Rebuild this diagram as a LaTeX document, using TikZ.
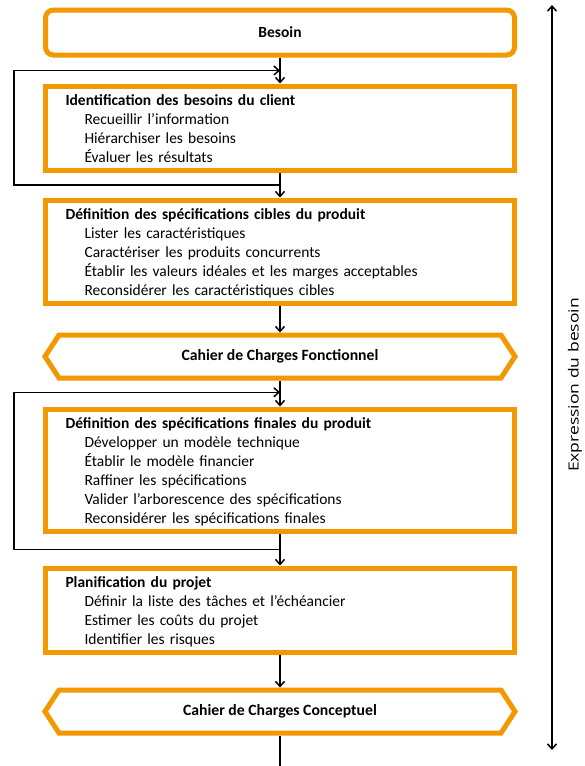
\documentclass[tikz,border=0pt]{standalone}
\usepackage{fontspec}
\setmainfont{Carlito}
\newfontfamily\etiquette{Open Sans}
\usetikzlibrary{positioning,calc,arrows.meta}
\definecolor{orangecdc}{RGB}{243,152,0}
\newcommand{\tache}[1]{\\\hspace*{19pt}#1}

\begin{document}
\begin{tikzpicture}[x=1pt, y=1pt]
  \tikzstyle{debut} = [rectangle, rounded corners=8pt, draw=orangecdc, line width=5pt, minimum width=469pt, minimum height=45pt, font=\fontsize{15.5}{19}\selectfont\bfseries]
  \tikzstyle{etape} = [rectangle, draw=orangecdc, line width=5pt, text width=429pt, inner xsep=20pt, inner ysep=4pt, align=left, font=\fontsize{15.5}{19}\selectfont, execute at begin node={\rule{0pt}{15.8pt}}, execute at end node={\rule[-3.2pt]{0pt}{3.2pt}}]
  \tikzstyle{cahier} = [rectangle, outer sep=0pt, minimum width=470pt, minimum height=43pt, font=\fontsize{15.7}{19}\selectfont\bfseries]
  \tikzstyle{hexa} = [draw=orangecdc, line width=5pt]
  \tikzstyle{fleche} = [-{Straight Barb[length=5pt,width=9pt]}, line width=1.5pt]
  \useasboundingbox (0,0) rectangle (584,-766);

  \node[debut] (besoin) at (280,-32.5) {Besoin};
  \node[etape, below=26pt of besoin] (ident) {\textbf{Identification des besoins du client}
    \tache{Recueillir l’information}
    \tache{Hiérarchiser les besoins}
    \tache{Évaluer les résultats}};
  \node[etape, below=25pt of ident] (cibles) {\textbf{Définition des spécifications cibles du produit}
    \tache{Lister les caractéristiques}
    \tache{Caractériser les produits concurrents}
    \tache{Établir les valeurs idéales et les marges acceptables}
    \tache{Reconsidérer les caractéristiques cibles}};
  \node[cahier, below=29.5pt of cibles] (cdcf) {Cahier de Charges Fonctionnel};
  \node[etape, below=28.5pt of cdcf] (finales) {\textbf{Définition des spécifications finales du produit}
    \tache{Développer un modèle technique}
    \tache{Établir le modèle financier}
    \tache{Raffiner les spécifications}
    \tache{Valider l’arborescence des spécifications}
    \tache{Reconsidérer les spécifications finales}};
  \node[etape, below=32pt of finales] (planif) {\textbf{Planification du projet}
    \tache{Définir la liste des tâches et l’échéancier}
    \tache{Estimer les coûts du projet}
    \tache{Identifier les risques}};
  \node[cahier, below=35.5pt of planif] (cdcc) {Cahier de Charges Conceptuel};

  % contours des cahiers de charges
  \foreach \c in {cdcf,cdcc}
    \draw[hexa] (\c.west) -- ($(\c.north west)+(14,0)$) -- ($(\c.north east)+(-14,0)$) -- (\c.east)
      -- ($(\c.south east)+(-14,0)$) -- ($(\c.south west)+(14,0)$) -- cycle;

  % liaisons entre les etapes
  \draw[fleche] (besoin) -- (ident);
  \draw[fleche] (ident) -- (cibles);
  \draw[fleche] (cibles) -- ([yshift=2.5pt]cdcf.north);
  \draw[fleche] ([yshift=-2.5pt]cdcf.south) -- (finales);
  \draw[fleche] (finales) -- (planif);
  \draw[fleche] (planif) -- ([yshift=2.5pt]cdcc.north);
  \coordinate (fin) at ($(cdcc.south)+(0,-40)$);
  \draw[fleche] ([yshift=-2.5pt]cdcc.south) -- (fin);

  % retours
  \coordinate (h1) at ($(besoin.south)!.5!(ident.north)$);
  \coordinate (b1) at ($(ident.south)!.5!(cibles.north)$);
  \coordinate (h2) at ($(cdcf.south)!.5!(finales.north)$);
  \coordinate (b2) at ($(finales.south)!.5!(planif.north)$);
  \draw[fleche] (b1) -- (14,0 |- b1) |- (h1);
  \draw[fleche] (b2) -- (14,0 |- b2) |- (h2);

  % expression du besoin
  \coordinate (haut) at (552,-5);
  \coordinate (bas) at (552,-750);
  \draw[fleche, {Straight Barb[length=5pt,width=9pt]}-{Straight Barb[length=5pt,width=9pt]}] (haut) -- (bas);
  \node[rotate=90, font=\etiquette\fontsize{14}{19}\selectfont] (expr) at (575,-385) {\scalebox{1.25}[1]{Expression du besoin}};
\end{tikzpicture}
\end{document}
